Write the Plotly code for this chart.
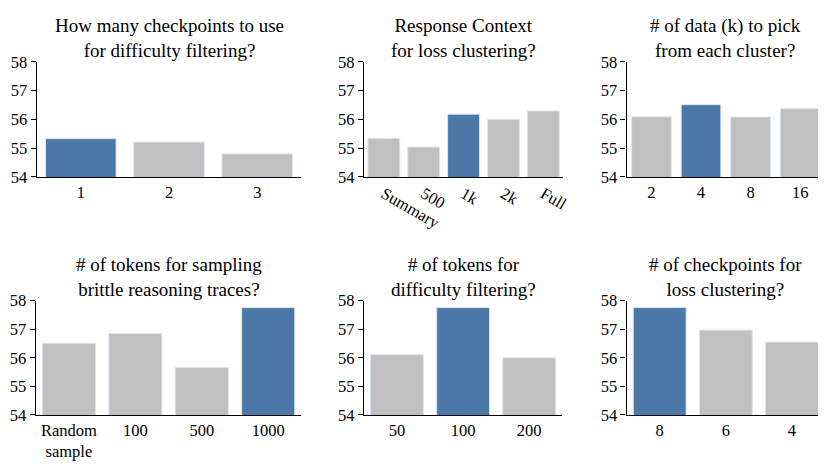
import plotly.graph_objects as go

W, H = 825, 470

# ---- data ----
p1_cats = ["1", "2", "3"]
p1_vals = [55.33, 55.21, 54.80]
p1_best = 0

p2_cats = ["Summary", "500", "1k", "2k", "Full"]
p2_vals = [55.34, 55.04, 56.18, 56.00, 56.29]
p2_best = 2

p3_cats = ["2", "4", "8", "16"]
p3_vals = [56.09, 56.51, 56.08, 56.37]
p3_best = 1

p4_cats = ["Random<br>sample", "100", "500", "1000"]
p4_vals = [56.51, 56.85, 55.66, 57.76]
p4_best = 3

p5_cats = ["50", "100", "200"]
p5_vals = [56.11, 57.76, 56.00]
p5_best = 1

p6_cats = ["8", "6", "4"]
p6_vals = [57.76, 56.97, 56.55]
p6_best = 0

titles = [
    "How many checkpoints to use<br>for difficulty filtering?",
    "Response Context<br>for loss clustering?",
    "# of data (k) to pick<br>from each cluster?",
    "# of tokens for sampling<br>brittle reasoning traces?",
    "# of tokens for<br>difficulty filtering?",
    "# of checkpoints for<br>loss clustering?",
]
y_ticks = [54, 55, 56, 57, 58]

BLUE = "#4c78a8"
GRAY = "#c0c0c0"
FONT = "Times New Roman, Liberation Serif, DejaVu Serif, serif"

panels = [
    (p1_cats, p1_vals, p1_best),
    (p2_cats, p2_vals, p2_best),
    (p3_cats, p3_vals, p3_best),
    (p4_cats, p4_vals, p4_best),
    (p5_cats, p5_vals, p5_best),
    (p6_cats, p6_vals, p6_best),
]

# pixel layout: (x_left, x_right_visible, slot_px); rows (top_px, bottom_px)
xpix = [(37, 304, 89), (367, 568, 40.2), (632, 825, 50),
        (36, 304, 67), (367, 567, 66.7), (632, 825, 66.7)]
ypix = [(55, 175), (55, 175), (55, 175), (304, 423), (304, 423), (304, 423)]
tickangles = [0, 30, 0, 0, 0, 0]

fig = go.Figure()
layout = {}
for i, (cats, vals, best) in enumerate(panels):
    n = i + 1
    xa = "x" if n == 1 else f"x{n}"
    ya = "y" if n == 1 else f"y{n}"
    colors = [BLUE if j == best else GRAY for j in range(len(cats))]
    fig.add_trace(go.Bar(
        x=cats, y=vals, xaxis=xa, yaxis=ya,
        marker=dict(color=colors, line=dict(color="#dde5f0", width=1)),
        showlegend=False, hoverinfo="x+y",
    ))
    xl, xr, slot = xpix[i]
    yt, yb = ypix[i]
    span = (xr - xl) / slot
    layout["xaxis" if n == 1 else f"xaxis{n}"] = dict(
        domain=[xl / W, xr / W], anchor=ya, type="category",
        range=[-0.5, -0.5 + span],
        showline=True, linecolor="black", linewidth=1.3,
        ticks="", showgrid=False, zeroline=False,
        tickangle=tickangles[i],
        tickfont=dict(family=FONT, size=16.5, color="black"),
    )
    layout["yaxis" if n == 1 else f"yaxis{n}"] = dict(
        domain=[(H - yb) / H, (H - yt) / H], anchor=xa,
        range=[54, 58], tickvals=y_ticks,
        showline=True, linecolor="black", linewidth=1.3,
        ticks="outside", ticklen=5, tickcolor="black", tickwidth=1,
        showgrid=False, zeroline=False,
        tickfont=dict(family=FONT, size=16.5, color="black"),
    )

annotations = []
for i, t in enumerate(titles):
    xl, xr, slot = xpix[i]
    cx = (xl + xl + slot * (len(panels[i][0]))) / 2
    yt, yb = ypix[i]
    annotations.append(dict(
        text=t, xref="paper", yref="paper",
        x=cx / W, y=(H - yt) / H, xanchor="center", yanchor="bottom",
        yshift=-1, showarrow=False,
        font=dict(family=FONT, size=19, color="black"),
    ))

fig.update_layout(
    width=W, height=H,
    margin=dict(l=0, r=0, t=0, b=0),
    paper_bgcolor="white", plot_bgcolor="white",
    bargap=0.2,
    annotations=annotations,
    **layout,
)

fig.write_html("out.html", config={"displayModeBar": False},
               post_script="document.body.style.margin='0';document.body.style.overflow='hidden';")
